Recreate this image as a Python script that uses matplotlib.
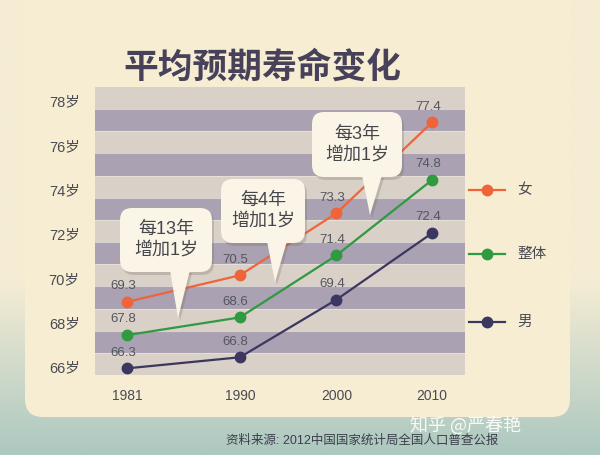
import numpy as np
import matplotlib.pyplot as plt
import matplotlib.transforms as mtransforms
from matplotlib.patches import FancyBboxPatch, Polygon

plt.rcParams["font.family"] = ["Liberation Sans", "Noto Sans CJK SC", "DejaVu Sans"]

# data
years = ["1981", "1990", "2000", "2010"]
female = [69.3, 70.5, 73.3, 77.4]
overall = [67.8, 68.6, 71.4, 74.8]
male = [66.3, 66.8, 69.4, 72.4]
series_names = ["女", "整体", "男"]
age_ticks = [66, 68, 70, 72, 74, 76, 78]
age_labels = [f"{a}岁" for a in age_ticks]
callout_texts = ["每13年\n增加1岁", "每4年\n增加1岁", "每3年\n增加1岁"]
title = "平均预期寿命变化"
source = "资料来源: 2012中国国家统计局全国人口普查公报"
watermark = "知乎 @严春艳"

# layout (the printed chart spaces the years unevenly)
x_pos = [0, 1.11, 2.06, 3]
colors = ["#ef6439", "#2f9a3f", "#3c3760"]
W, H = 600, 455

fig = plt.figure(figsize=(W / 100, H / 100), dpi=100)

# background: photo of a printed page
bg = fig.add_axes([0, 0, 1, 1])
bg.axis("off")
top_c = np.array([245, 236, 212]) / 255
bot_c = np.array([172, 200, 192]) / 255
t = np.clip((np.linspace(0, 1, 200) - 0.62) / 0.38, 0, 1)[:, None]
grad = top_c * (1 - t) + bot_c * t
bg.imshow(np.repeat(grad[:, None, :], 10, axis=1), aspect="auto",
          extent=[0, W, H, 0])
bg.set_xlim(0, W)
bg.set_ylim(H, 0)
bg.add_patch(FancyBboxPatch((25, -40), 545, 457,
                            boxstyle="round,pad=0,rounding_size=18",
                            fc="#f6edd3", ec="none", zorder=2))

# main chart
ax = fig.add_axes([95 / W, 1 - 375 / H, 370 / W, 288 / H])
ax.set_facecolor("none")
ax.set_xlim(-0.315, 3.325)
ax.set_ylim(66, 79)
for k in range(66, 79):
    ax.axhspan(k, k + 1, color="#aaa1b2" if k % 2 else "#d9d0c8", lw=0, zorder=0)
    ax.axhline(k, color="#ece6e0", lw=0.8, alpha=0.7, zorder=0.5)
for s in ax.spines.values():
    s.set_visible(False)

for vals, c in zip([female, overall, male], colors):
    ax.plot(x_pos, vals, color=c, lw=1.6, marker="o", ms=7.5, zorder=3)
    for x, v in zip(x_pos, vals):
        ax.annotate(f"{v}", (x, v), xytext=(-3, 7), textcoords="offset points",
                    ha="center", va="bottom", fontsize=9.5, color="#55555c")

ax.set_xticks(x_pos, years)
ax.set_yticks(age_ticks, age_labels)
ax.tick_params(axis="x", length=0, pad=10, labelsize=10, labelcolor="#4a4a52")
ax.tick_params(axis="y", length=0, pad=11, labelsize=10.5, labelcolor="#4a4a52")
shift = mtransforms.ScaledTranslation(0, 0.08, fig.dpi_scale_trans)
for lab in ax.get_yticklabels():
    lab.set_transform(lab.get_transform() + shift)

# overlay in pixel coordinates for the page decorations
ov = fig.add_axes([0, 0, 1, 1])
ov.set_facecolor("none")
ov.axis("off")
ov.set_xlim(0, W)
ov.set_ylim(H, 0)

ov.text(262, 67, title, ha="center", va="center", fontsize=25,
        fontweight="bold", color="#47425a", family=["Noto Sans CJK SC"])

boxes = [(120, 208, 92, 64, 170, 190, 178, 318),
         (221, 179, 84, 64, 267, 287, 275, 282),
         (312, 112, 90, 65, 362, 382, 370, 215)]
for (bx, by, bw, bh, p0, p1, tx, ty), txt in zip(boxes, callout_texts):
    for dx, dy, fc, a in [(2, 3, "#6b6358", 0.25), (0, 0, "#fbf5e7", 1)]:
        ov.add_patch(FancyBboxPatch((bx + dx, by + dy), bw, bh,
                                    boxstyle="round,pad=0,rounding_size=12",
                                    fc=fc, ec="none", alpha=a, zorder=4))
        ov.add_patch(Polygon([(p0 + dx, by + bh - 2 + dy), (p1 + dx, by + bh - 2 + dy),
                              (tx + dx, ty + dy)], closed=True, fc=fc, ec="none",
                             alpha=a, zorder=4))
    ov.text(bx + bw / 2, by + bh / 2, txt, ha="center", va="center",
            fontsize=13, linespacing=1.3, color="#45454c", zorder=5)

# legend
for name, c, ly in zip(series_names, colors, [190, 254, 322]):
    ov.plot([469, 505], [ly, ly], color=c, lw=1.6, zorder=4)
    ov.plot([487], [ly], color=c, marker="o", ms=7.5, zorder=4)
    ov.text(517, ly, name, ha="left", va="center", fontsize=10.5, color="#4a4a52")

ov.text(362, 441, source, ha="center", va="center", fontsize=9, color="#3b3f4a")
ov.text(466, 426, watermark, ha="center", va="center", fontsize=13,
        color="white", alpha=0.9, family=["Noto Sans CJK SC"])

fig.savefig("out.png", dpi=100)
